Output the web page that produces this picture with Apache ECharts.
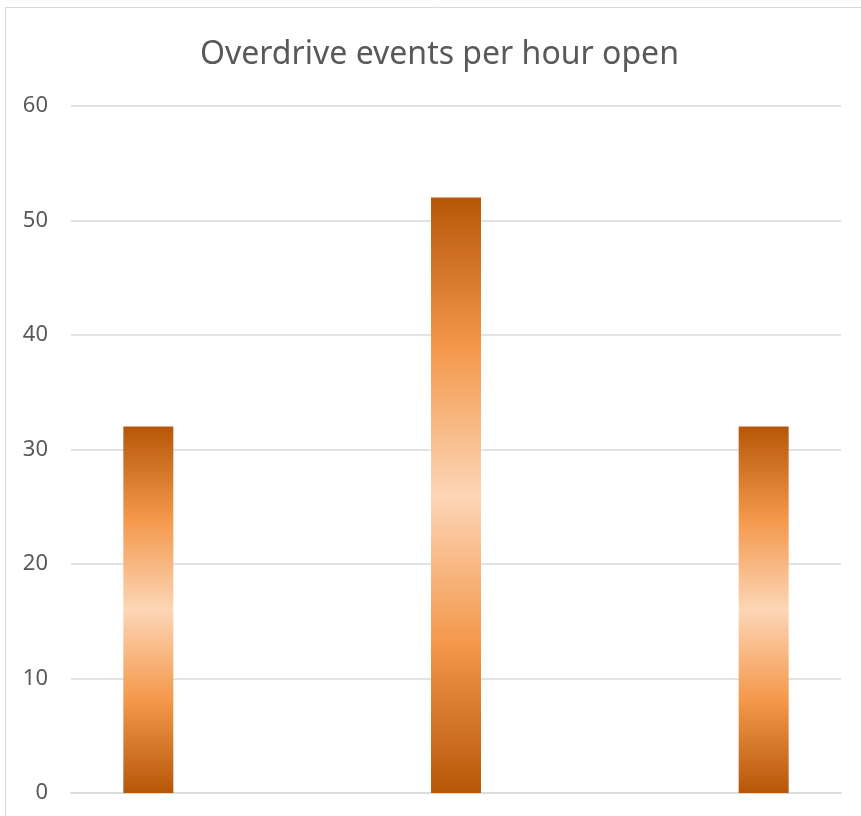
<!DOCTYPE html>
<html lang="en">

<head>
    <meta charset="UTF-8">
    <title>Overdrive events per hour open</title>
</head>

<body style="margin:0">

    <div id="chart" style="width:861px; height: 816px;"></div>
    <script src="https://cdn.jsdelivr.net/npm/echarts@6/dist/echarts.min.js"></script>
    <script>
        let myChart = echarts.init(document.getElementById('chart'))

        const categories = ['A', 'B', 'C']
        const series1 = [32, null, null]
        const series2 = [null, 52, null]
        const series3 = [null, null, 32]
        const yTicks = [0, 10, 20, 30, 40, 50, 60]

        // dark at the ends, light in the middle
        const barFill = new echarts.graphic.LinearGradient(0, 0, 0, 1, [
            { offset: 0, color: '#b65708' },
            { offset: 0.25, color: '#f4974a' },
            { offset: 0.5, color: '#fcd6b6' },
            { offset: 0.75, color: '#f4974a' },
            { offset: 1, color: '#b65708' }
        ])

        function bar(data) {
            return {
                type: 'bar',
                data: data,
                barWidth: 50,
                barGap: '2%',
                itemStyle: { color: barFill }
            }
        }

        const option = {
            animation: false,
            title: {
                text: 'Overdrive events per hour open',
                left: 195,
                top: 34,
                textStyle: {
                    color: '#595959',
                    fontSize: 32,
                    fontWeight: 'normal',
                    fontFamily: 'Noto Sans'
                }
            },
            graphic: [{
                type: 'rect',
                shape: { x: 5.5, y: 7.5, width: 900, height: 900 },
                style: { fill: 'none', stroke: '#d9d9d9', lineWidth: 1 }
            }],
            grid: { left: 71, right: 20, top: 106, bottom: 23 },
            xAxis: {
                type: 'category',
                data: categories,
                axisLine: { lineStyle: { color: '#d9d9d9', width: 1.5 } },
                axisTick: { show: false },
                axisLabel: { show: false }
            },
            yAxis: {
                type: 'value',
                min: yTicks[0],
                max: yTicks[yTicks.length - 1],
                interval: 10,
                axisLine: { show: false },
                axisTick: { show: false },
                axisLabel: {
                    margin: 23,
                    color: '#595959',
                    fontSize: 22,
                    fontFamily: 'Noto Sans'
                },
                splitLine: { lineStyle: { color: '#d9d9d9', width: 1.5 } }
            },
            series: [bar(series1), bar(series2), bar(series3)]
        }

        myChart.setOption(option)
    </script>
</body>

</html>
